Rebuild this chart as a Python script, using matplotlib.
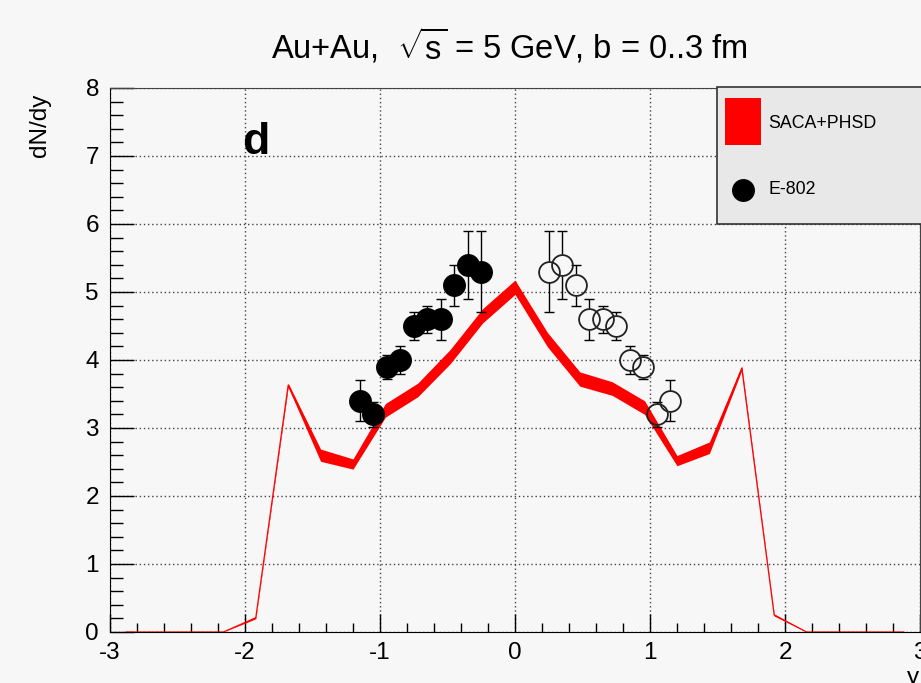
import numpy as np
import matplotlib
matplotlib.use("Agg")
import matplotlib.pyplot as plt
from matplotlib.ticker import MultipleLocator
from matplotlib.patches import Rectangle
from matplotlib.lines import Line2D

plt.rcParams['font.family'] = ['Liberation Sans', 'DejaVu Sans']
plt.rcParams['mathtext.fontset'] = 'custom'
plt.rcParams['mathtext.rm'] = 'Liberation Sans'
plt.rcParams['mathtext.it'] = 'Liberation Sans'
plt.rcParams['axes.unicode_minus'] = False

# SACA+PHSD band (centre value and half width)
y_model = [-2.88, -2.64, -2.40, -2.16, -1.92, -1.68, -1.44, -1.20, -0.96, -0.72,
           -0.48, -0.24, 0.00, 0.24, 0.48, 0.72, 0.96, 1.20, 1.44, 1.68,
           1.92, 2.16, 2.40, 2.64, 2.88]
dndy_model = [0.0, 0.0, 0.0, 0.0, 0.21, 3.63, 2.60, 2.47, 3.26, 3.56,
              4.05, 4.65, 5.07, 4.30, 3.72, 3.58, 3.30, 2.52, 2.71, 3.88,
              0.25, 0.0, 0.0, 0.0, 0.0]
dndy_err = [0.0, 0.0, 0.0, 0.0, 0.015, 0.03, 0.09, 0.075, 0.1, 0.1,
            0.105, 0.105, 0.105, 0.105, 0.105, 0.1, 0.1, 0.075, 0.085, 0.03,
            0.015, 0.0, 0.0, 0.0, 0.0]

# E-802 data (measured) and reflected points
y_e802 = [-1.15, -1.05, -0.95, -0.85, -0.75, -0.65, -0.55, -0.45, -0.35, -0.25]
dndy_e802 = [3.4, 3.2, 3.9, 4.0, 4.5, 4.6, 4.6, 5.1, 5.4, 5.3]
err_e802 = [0.3, 0.18, 0.18, 0.2, 0.2, 0.2, 0.3, 0.3, 0.5, 0.6]
y_refl = [0.25, 0.35, 0.45, 0.55, 0.65, 0.75, 0.85, 0.95, 1.05, 1.15]
dndy_refl = [5.3, 5.4, 5.1, 4.6, 4.6, 4.5, 4.0, 3.9, 3.2, 3.4]
err_refl = [0.6, 0.5, 0.3, 0.3, 0.2, 0.2, 0.2, 0.18, 0.18, 0.3]

bg = '#f7f7f7'
fig = plt.figure(figsize=(9.21, 6.83), dpi=100, facecolor=bg)
ax = fig.add_axes([110 / 921, 51 / 683, 810 / 921, 544 / 683], facecolor=bg)

ym = np.array(y_model)
dm = np.array(dndy_model)
em = np.array(dndy_err)
ax.fill_between(ym, dm - em, dm + em, color='red', lw=0, zorder=3)
ax.plot(ym, dm, color='red', lw=0.9, zorder=3)

r = 0.16  # marker radius in data units (vertical)


def draw_points(x, y, e, filled):
    x = np.array(x); y = np.array(y); e = np.array(e)
    ax.vlines(x, y + r, y + e, color='black', lw=1, zorder=4)
    ax.vlines(x, y - e, y - r, color='black', lw=1, zorder=4)
    ax.errorbar(x, y, yerr=e, fmt='none', ecolor='black', elinewidth=0,
                capsize=3.5, capthick=1, zorder=4)
    if filled:
        ax.plot(x, y, 'o', ms=15.5, color='black', zorder=5)
    else:
        ax.plot(x, y, 'o', ms=15, mfc='none', mec='#222222', mew=1.3, zorder=5)


draw_points(y_e802, dndy_e802, err_e802, True)
draw_points(y_refl, dndy_refl, err_refl, False)

ax.set_xlim(-3, 3)
ax.set_ylim(0, 8)
ax.xaxis.set_major_locator(MultipleLocator(1))
ax.xaxis.set_minor_locator(MultipleLocator(0.2))
ax.yaxis.set_major_locator(MultipleLocator(1))
ax.yaxis.set_minor_locator(MultipleLocator(0.2))
ax.tick_params(axis='x', which='major', direction='in', length=13, width=1, pad=7, labelsize=17.5)
ax.tick_params(axis='x', which='minor', direction='in', length=6.5, width=1)
ax.tick_params(axis='y', which='major', direction='in', length=17, width=1, pad=8, labelsize=17.5)
ax.tick_params(axis='y', which='minor', direction='in', length=9, width=1)
ax.grid(True, which='major', color='#444444', lw=1, linestyle=(0, (1, 2)))
ax.set_axisbelow(True)
for s in ['top', 'right']:
    ax.spines[s].set_color('#444444')

ax.text(-2.02, 7.03, 'd', fontsize=32, fontweight='bold', va='baseline', zorder=6)

fig.text(0.553, 0.934, r'Au+Au,  $\sqrt{\mathregular{s}}$ = 5 GeV, b = 0..3 fm',
         ha='center', va='center', fontsize=23.5)
fig.text(0.043, 1 - 94 / 683, 'dN/dy', rotation=90, ha='center', va='top', fontsize=17.5)
fig.text(0.985, -1 / 683, 'y', ha='left', va='baseline', fontsize=17.5)

# legend box
fig.patches.append(Rectangle((717 / 921, 1 - 224 / 683), 0.3, 137 / 683,
                             transform=fig.transFigure, facecolor='#e8e8e8',
                             edgecolor='#333333', lw=1.2, zorder=10))
fig.patches.append(Rectangle((725 / 921, 1 - 145 / 683), 36 / 921, 47 / 683,
                             transform=fig.transFigure, facecolor='red',
                             edgecolor='none', zorder=11))
fig.add_artist(Line2D([743 / 921], [1 - 190 / 683], marker='o', ms=15.5,
                      color='black', transform=fig.transFigure, zorder=11))
fig.text(768 / 921, 1 - 124 / 683, 'SACA+PHSD', fontsize=12.8, va='center', zorder=12)
fig.text(768 / 921, 1 - 190 / 683, 'E-802', fontsize=12.8, va='center', zorder=12)

fig.savefig('out.png', dpi=100, facecolor=bg)
